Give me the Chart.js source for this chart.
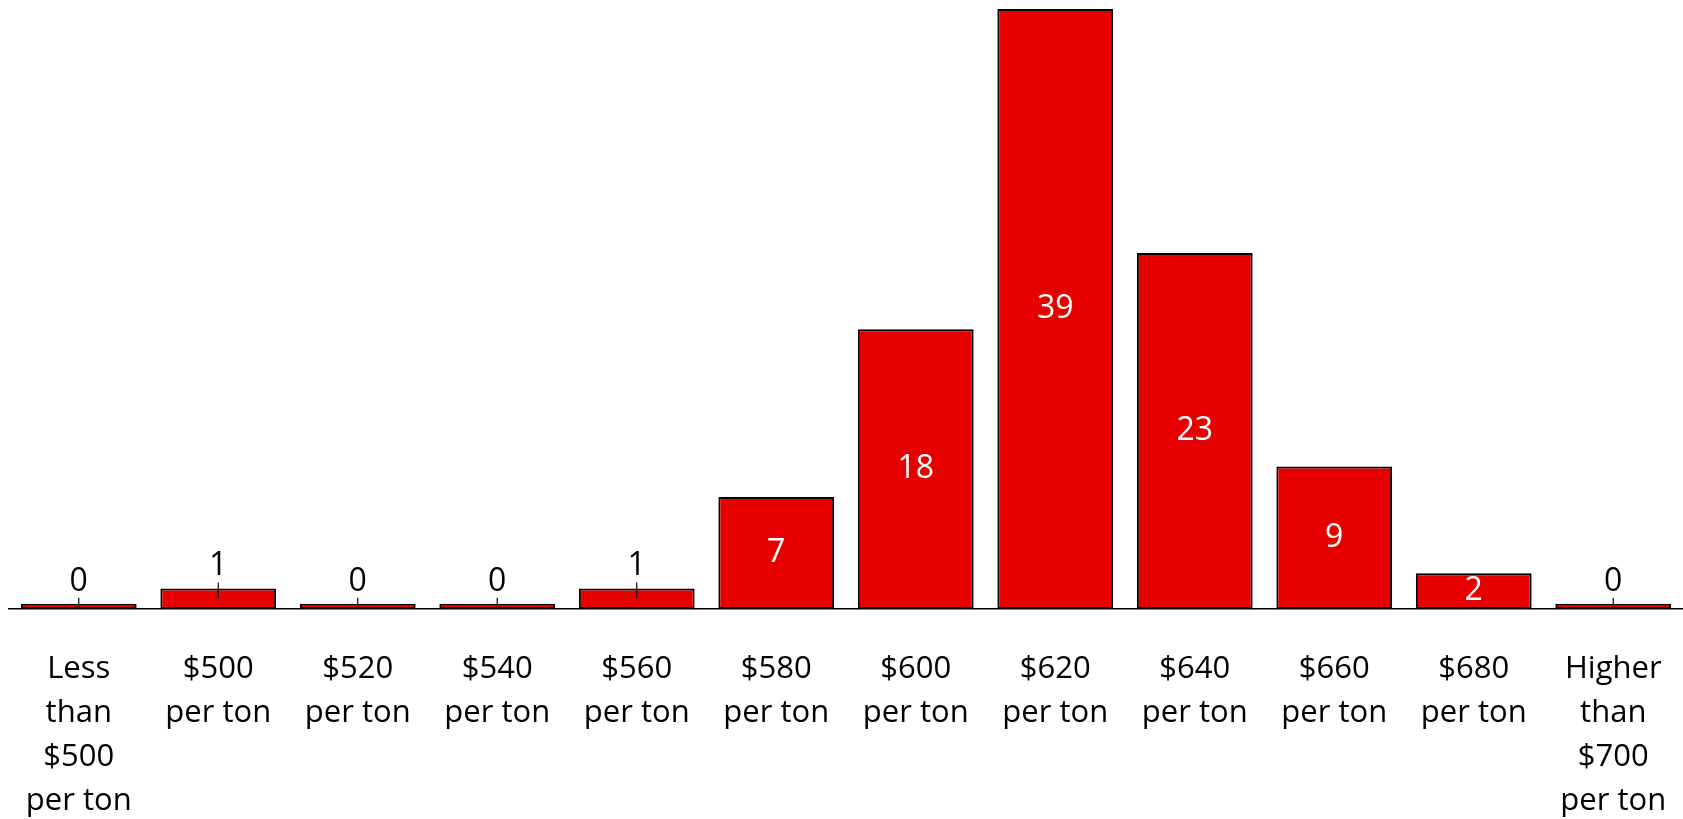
<!DOCTYPE html>
<html>
<head>
<meta charset="utf-8">
<script src="https://cdn.jsdelivr.net/npm/chart.js@4.4.0/dist/chart.umd.min.js"></script>
<style>
  html, body { margin: 0; padding: 0; background: #fff; }
  #wrap { width: 1683px; height: 819px; position: relative; }
</style>
</head>
<body>
<div id="wrap"><canvas id="priceChart"></canvas></div>
<script>
// カテゴリ（価格帯）
const priceLabels = [
  ['Less', 'than', '$500', 'per ton'],
  ['$500', 'per ton'],
  ['$520', 'per ton'],
  ['$540', 'per ton'],
  ['$560', 'per ton'],
  ['$580', 'per ton'],
  ['$600', 'per ton'],
  ['$620', 'per ton'],
  ['$640', 'per ton'],
  ['$660', 'per ton'],
  ['$680', 'per ton'],
  ['Higher', 'than', '$700', 'per ton']
];
// 回答数
const responseCounts = [0, 1, 0, 0, 1, 7, 18, 39, 23, 9, 2, 0];

const FONT = '"Open Sans", "Liberation Sans", sans-serif';
const AXIS_MIN = -0.35;

// バーの値ラベルを描くプラグイン
const barLabelPlugin = {
  id: 'barLabels',
  afterDatasetsDraw(chart) {
    const ctx = chart.ctx;
    const meta = chart.getDatasetMeta(0);
    ctx.save();
    ctx.font = '32px ' + FONT;
    ctx.textAlign = 'center';
    meta.data.forEach((bar, i) => {
      const v = responseCounts[i];
      if (v >= 2) {
        ctx.fillStyle = '#ffffff';
        ctx.textBaseline = 'middle';
        ctx.fillText(String(v), bar.x, (bar.y + bar.base) / 2);
      } else {
        ctx.fillStyle = '#000000';
        ctx.textBaseline = 'alphabetic';
        ctx.fillText(String(v), bar.x, bar.y - 13);
        // 引き出し線
        ctx.strokeStyle = '#000000';
        ctx.lineWidth = 1.2;
        ctx.beginPath();
        ctx.moveTo(bar.x, bar.y - 6);
        ctx.lineTo(bar.x, Math.min(bar.y + 10, bar.base));
        ctx.stroke();
      }
    });
    ctx.restore();
  }
};

const priceChart = new Chart(document.getElementById('priceChart'), {
  type: 'bar',
  data: {
    labels: priceLabels,
    datasets: [{
      data: responseCounts,
      backgroundColor: '#e60000',
      borderColor: '#000000',
      borderWidth: 2,
      borderSkipped: false,
      base: AXIS_MIN,
      barPercentage: 0.83,
      categoryPercentage: 1.0
    }]
  },
  options: {
    responsive: true,
    maintainAspectRatio: false,
    animation: false,
    layout: {
      padding: { left: 9, right: 0, top: 9, bottom: 0 }
    },
    scales: {
      x: {
        grid: { display: false, drawTicks: false },
        border: { display: true, color: '#000000', width: 1.5 },
        ticks: {
          color: '#000000',
          font: { family: FONT, size: 31, lineHeight: 1.42 },
          padding: 38,
          maxRotation: 0,
          autoSkip: false
        },
        afterFit(scale) {
          // 軸の高さを固定し、左右の余白は付けない
          scale.height = 210;
          scale.paddingLeft = 0;
          scale.paddingRight = 0;
        }
      },
      y: {
        display: false,
        min: AXIS_MIN,
        max: 39
      }
    },
    plugins: {
      legend: { display: false },
      tooltip: { enabled: false }
    }
  },
  plugins: [barLabelPlugin]
});
</script>
</body>
</html>
